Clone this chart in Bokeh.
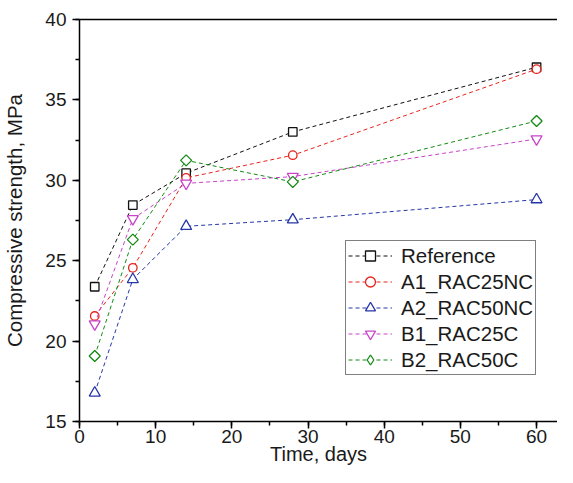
from bokeh.plotting import figure
from bokeh.models import (Range1d, LinearAxis, FixedTicker, SingleIntervalTicker,
                          Legend, LegendItem)
from bokeh.embed import file_html
from bokeh.resources import INLINE
import math

# ---- data ----
days = [2, 7, 14, 28, 60]
reference = [23.38, 28.46, 30.44, 33.01, 37.03]
a1_rac25nc = [21.56, 24.56, 30.15, 31.56, 36.91]
a2_rac50nc = [16.78, 23.84, 27.14, 27.55, 28.80]
b1_rac25c = [21.06, 27.61, 29.81, 30.23, 32.57]
b2_rac50c = [19.07, 26.31, 31.24, 29.90, 33.69]

names = ["Reference", "A1_RAC25NC", "A2_RAC50NC", "B1_RAC25C", "B2_RAC50C"]
series = [reference, a1_rac25nc, a2_rac50nc, b1_rac25c, b2_rac50c]
colors = ["#111111", "#e8231d", "#2536a8", "#c843c8", "#148a14"]
markers = ["square", "circle", "triangle", "inverted_triangle", "square"]
legend_markers = ["square", "circle", "triangle", "inverted_triangle", "diamond"]
sizes = [8.5, 8.5, 11, 11, 7.8]
angles = [0, 0, 0, 0, math.pi / 4]

FONT = "Liberation Sans"

p = figure(width=557, height=467, output_backend="svg", toolbar_location=None,
           x_range=Range1d(0, 62.75), y_range=Range1d(15, 40),
           min_border_left=78, min_border_right=0, min_border_top=19,
           min_border_bottom=46)
p.outline_line_color = None
p.xgrid.visible = False
p.ygrid.visible = False
p.background_fill_color = "white"

p.xaxis.ticker = SingleIntervalTicker(interval=10, num_minor_ticks=2)
p.yaxis.ticker = SingleIntervalTicker(interval=5, num_minor_ticks=2)

for ax in (p.xaxis[0], p.yaxis[0]):
    ax.axis_line_width = 1.5
    ax.axis_line_color = "black"
    ax.major_tick_line_width = 1.5
    ax.minor_tick_line_width = 1.5
    ax.major_tick_line_color = "black"
    ax.minor_tick_line_color = "black"
    ax.major_tick_in = 0
    ax.minor_tick_in = 0
    ax.major_tick_out = 7
    ax.minor_tick_out = 4
    ax.major_label_text_font = FONT
    ax.major_label_text_font_size = "19px"
    ax.major_label_text_color = "#1a1a1a"
    ax.axis_label_text_font = FONT
    ax.axis_label_text_font_size = "20.5px"
    ax.axis_label_text_font_style = "normal"
    ax.axis_label_text_color = "#1a1a1a"

p.xaxis.major_label_standoff = 1
p.yaxis.major_label_standoff = 6
p.yaxis.axis_label = "Compressive strength, MPa"
p.yaxis.axis_label_standoff = 16
p.xaxis.axis_label = "Time, days"
p.xaxis.axis_label_text_font_size = "20px"
p.xaxis.axis_label_standoff = -3

# top frame line
top = LinearAxis(ticker=FixedTicker(ticks=[]), major_label_text_font_size="0px",
                 major_tick_out=0, minor_tick_out=0, axis_line_width=1.5,
                 axis_line_color="black")
p.add_layout(top, "above")

items = []
for name, ys, c, m, lm, s, a in zip(names, series, colors, markers,
                                     legend_markers, sizes, angles):
    rl = p.line(days, ys, line_color=c, line_width=1, line_dash="4 3")
    rs = p.scatter(days, ys, marker=m, size=s, angle=a, line_color=c,
                   line_width=1.3, fill_color="white")
    if lm != m:
        # key symbol only: zero-size glyph on the plot, drawn in the legend
        rs = p.scatter(days, ys, marker=lm, size=0, line_color=c,
                       line_width=1.3, fill_color="white")
    items.append(LegendItem(label=name, renderers=[rl, rs]))

legend = Legend(items=items, location=(266, 46), border_line_color="black",
                border_line_width=1, background_fill_color="white",
                background_fill_alpha=1, label_text_font=FONT,
                label_text_font_size="20.5px", label_text_color="#1a1a1a",
                glyph_width=44, glyph_height=25, label_height=25,
                label_standoff=9, padding=2, spacing=1, margin=0)
p.add_layout(legend)

open("out.html", "w").write(file_html(p, INLINE))
